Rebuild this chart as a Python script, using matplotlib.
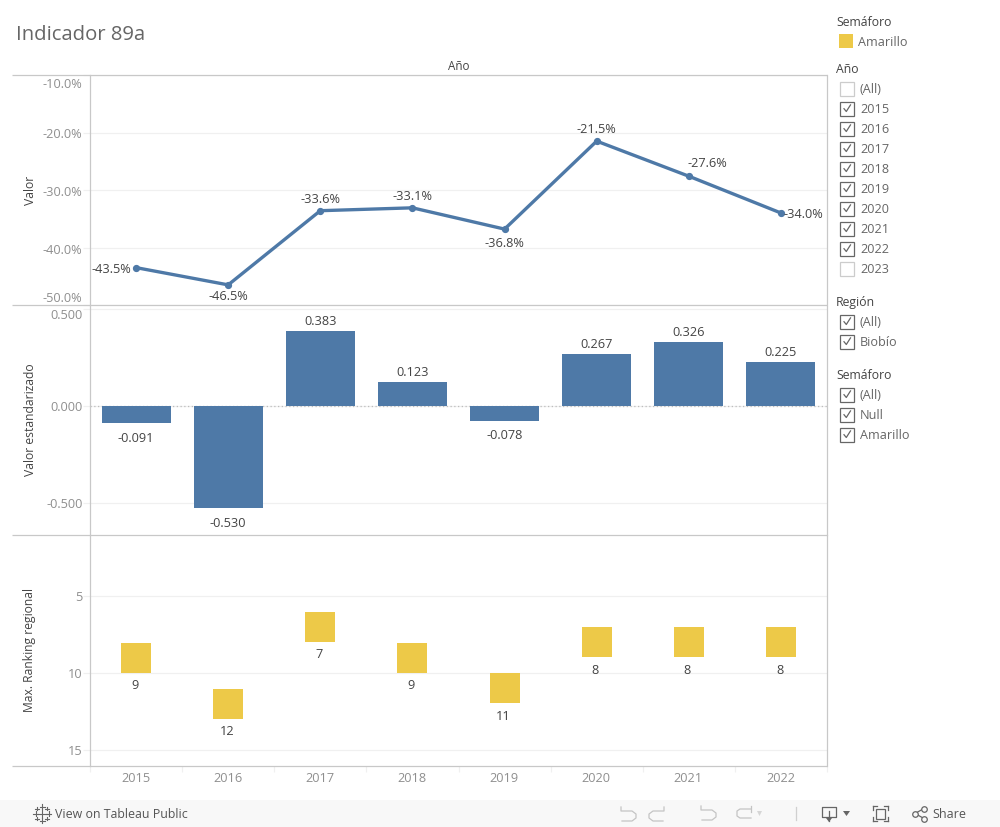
import matplotlib
matplotlib.use('Agg')
import matplotlib.pyplot as plt
from matplotlib.patches import Rectangle
from matplotlib.ticker import FuncFormatter
from matplotlib.transforms import ScaledTranslation

plt.rcParams['font.family'] = ['Open Sans', 'DejaVu Sans']

years = ['2015', '2016', '2017', '2018', '2019', '2020', '2021', '2022']
valor = [-43.5, -46.5, -33.6, -33.1, -36.8, -21.5, -27.6, -34.0]
estandarizado = [-0.091, -0.530, 0.383, 0.123, -0.078, 0.267, 0.326, 0.225]
ranking = [9, 12, 7, 9, 11, 8, 8, 8]
valor_ticks = [-10, -20, -30, -40, -50]
est_ticks = [0.5, 0.0, -0.5]
rank_ticks = [5, 10, 15]

anio_items = ['(All)'] + years + ['2023']
anio_checked = [False] + [True] * 8 + [False]
region_items = ['(All)', 'Biobío']
semaforo_items = ['(All)', 'Null', 'Amarillo']

BLUE = '#4e79a7'
YELLOW = '#edc948'
AXIS = '#c8c8c8'
GRID = '#f0f0f0'
TICK = '#8f8f8f'
TEXT = '#444444'
W, H = 1000, 827
L, R = 90.0, 827.0

fig = plt.figure(figsize=(W / 100, H / 100), dpi=100, facecolor='white')

def panel(top, bottom):
    ax = fig.add_axes([L / W, 1 - bottom / H, (R - L) / W, (bottom - top) / H])
    ax.set_xlim(-0.5, len(years) - 0.5)
    ax.set_xticks([])
    ax.set_facecolor('none')
    for s in ('top', 'bottom'):
        ax.spines[s].set_visible(False)
    ax.spines['left'].set_color(AXIS)
    ax.spines['right'].set_color(AXIS)
    ax.spines['left'].set_linewidth(0.9)
    ax.spines['right'].set_linewidth(0.9)
    ax.grid(axis='y', color=GRID, lw=0.9)
    ax.set_axisbelow(True)
    ax.tick_params(axis='y', length=5, width=0.9, color=GRID, labelcolor=TICK, labelsize=9.2, pad=0.5)
    return ax

def side_label(ax, s):
    ax.set_ylabel(s, fontsize=8.75, color=TEXT, va='center')
    ax.yaxis.set_label_coords((30 - L) / (R - L), 0.5)

def nudge_label(ax, index, pixels_down):
    lab = ax.get_yticklabels()[index]
    lab.set_transform(lab.get_transform() + ScaledTranslation(0, -pixels_down / 100, fig.dpi_scale_trans))

xs = list(range(len(years)))

# Line panel
a1 = panel(75, 305)
a1.set_ylim(-50, -10)
a1.set_yticks(valor_ticks)
a1.yaxis.set_major_formatter(FuncFormatter(lambda v, _: f'{v:.1f}%'))
a1.plot(xs, valor, color=BLUE, lw=2.4, marker='o', ms=4.2, solid_capstyle='round', clip_on=False)
offs = {0: (-25, -1.5), 1: (0, -12), 2: (0, 11.5), 3: (0, 11.5), 4: (0, -14), 5: (0, 11.5), 6: (19, 12.5), 7: (22, -1.5)}
for i, v in enumerate(valor):
    dx, dy = offs[i]
    a1.annotate(f'{v:.1f}%', (i, v), xytext=(dx * .72, dy * .72), textcoords='offset points',
                ha='center', va='center', fontsize=9.2, color=TEXT)
side_label(a1, 'Valor')

# Bar panel
a2 = panel(305.5, 534.5)
a2.set_ylim(-0.5 - 32 / 194, 0.5 + 3 / 194)
a2.set_yticks(est_ticks)
a2.yaxis.set_major_formatter(FuncFormatter(lambda v, _: f'{v:.3f}'))
a2.bar(xs, estandarizado, width=0.75, color=BLUE, zorder=3)
a2.axhline(0, color='#bdbdbd', lw=0.9, ls=(0, (1, 2)), zorder=2)
for i, v in enumerate(estandarizado):
    a2.annotate(f'{v:.3f}', (i, v), xytext=(0, 6.7 if v > 0 else -11), textcoords='offset points',
                ha='center', va='center', fontsize=9.2, color=TEXT)
side_label(a2, 'Valor estandarizado')

# Ranking panel
u = 77 / 5
a3 = panel(535, 765.5)
a3.set_ylim(15 + (765.5 - 750) / u, 5 - (596 - 535) / u)
a3.set_yticks(rank_ticks)
a3.scatter(xs, ranking, marker='s', s=(30 * 0.72) ** 2, color=YELLOW, linewidths=0, zorder=3)
for i, v in enumerate(ranking):
    a3.annotate(str(v), (i, v), xytext=(-1, -20.2), textcoords='offset points',
                ha='center', va='center', fontsize=9.2, color=TEXT)
side_label(a3, 'Max. Ranking regional')
a3.set_xticks([x + 0.5 for x in [-1] + xs])
a3.set_xticklabels([])
a3.tick_params(axis='x', length=4, width=0.9, color=GRID)
for i, y in enumerate(years):
    a3.annotate(y, (i, 0), xycoords=('data', 'axes fraction'), xytext=(-0.4, -9.5), textcoords='offset points',
                ha='center', va='center', fontsize=9.2, color=TICK)

# Edge tick labels sit inside their panels
fig.canvas.draw()
for lab in a1.get_yticklabels():
    if lab.get_text() == '-50.0%':
        lab.set_verticalalignment('bottom')
for ax, txt in ((a1, '-10.0%'), (a2, '0.500')):
    for lab in ax.get_yticklabels():
        if lab.get_text() == txt:
            lab.set_verticalalignment('top')
nudge_label(a1, 0, 3)
nudge_label(a1, 1, 1)
nudge_label(a1, 2, 1)
nudge_label(a1, 3, 1)

# Chrome overlay in pixel coordinates
o = fig.add_axes([0, 0, 1, 1], zorder=5)
o.set_xlim(0, W)
o.set_ylim(H, 0)
o.axis('off')

o.text(16.5, 34.5, 'Indicador 89a', fontsize=14.6, color='#666666', va='center', ha='left')
o.text(458.5, 66, 'Año', fontsize=8.4, color=TEXT, va='center', ha='center')
for y in (75, 305, 535, 765.5):
    o.plot([12, 827], [y, y], color=AXIS, lw=0.9, solid_capstyle='butt')

ITEM = 9.1

def head(y, s):
    o.text(836, y, s, fontsize=8.8, color=TEXT, va='center', ha='left')

def check(y, s, on=True):
    o.add_patch(Rectangle((840, y - 7), 14, 14, fc='white', ec='#666666' if on else '#cccccc', lw=0.9))
    if on:
        o.plot([844, 846.3, 850.5], [y + 0.2, y + 3, y - 3.6], color='#666666', lw=0.9)
    o.text(860, y + 0.7, s, fontsize=ITEM, color='#666666', va='center', ha='left')

head(22, 'Semáforo')
o.add_patch(Rectangle((839, 34), 14, 14, fc=YELLOW, ec='none'))
o.text(858, 42.5, 'Amarillo', fontsize=ITEM, color='#666666', va='center', ha='left')
head(69.5, 'Año')
for i, (s, c) in enumerate(zip(anio_items, anio_checked)):
    check(88.5 + 20 * i, s, c)
head(302.5, 'Región')
for i, s in enumerate(region_items):
    check(321.5 + 20 * i, s)
head(375.5, 'Semáforo')
for i, s in enumerate(semaforo_items):
    check(394.5 + 20 * i, s)

# Toolbar
o.add_patch(Rectangle((0, 800), W, 27, fc='#f8f8f8', ec='none'))
o.text(55, 814, 'View on Tableau Public', fontsize=8.9, color='#555555', va='center', ha='left')
o.text(932, 814, 'Share', fontsize=9, color='#555555', va='center', ha='left')
ic = '#666666'
for cx, cy, r in [(42, 813.5, 4.5), (42, 806.5, 2.5), (42, 820.5, 2.5), (35.5, 813.5, 2.5), (48.5, 813.5, 2.5),
                  (37, 808.5, 1.8), (47, 808.5, 1.8), (37, 818.5, 1.8), (47, 818.5, 1.8)]:
    o.plot([cx - r, cx + r], [cy, cy], color=ic, lw=0.8)
    o.plot([cx, cx], [cy - r, cy + r], color=ic, lw=0.8)
lt = '#c4c4c4'
o.plot([621, 621, 632, 636, 636, 632, 622], [807, 811, 811, 814, 818, 821, 821], color=lt, lw=0.9)
o.plot([664, 664, 653, 649, 649, 653, 663], [807, 811, 811, 814, 818, 821, 821], color=lt, lw=0.9)
o.plot([701, 701, 712, 716, 716, 712, 702], [806, 810, 810, 813, 817, 820, 820], color=lt, lw=0.9)
o.plot([751, 740, 737, 737, 740, 751], [809, 809, 811, 816, 818, 818], color=lt, lw=0.9)
o.plot([751, 751], [806, 812], color=lt, lw=0.9)
o.fill([757, 762, 759.5], [811, 811, 816], color='#d6d6d6', lw=0)
o.plot([795.5, 795.5], [807, 820], color='#d0d0d0', lw=0.9)
o.plot([828, 822, 822, 836, 836, 830], [817, 817, 807, 807, 817, 817], color=ic, lw=0.9)
o.plot([829, 829], [811, 821], color=ic, lw=0.9)
o.fill([826, 832, 829], [818, 818, 822], color=ic, lw=0)
o.fill([843, 850, 846.5], [811, 811, 816], color=ic, lw=0)
o.add_patch(Rectangle((876, 808.5), 9, 10.5, fc='none', ec=ic, lw=0.9))
for xa, xb, ya, yb in [(873, 873, 806, 810), (873, 877, 806, 806), (888, 888, 806, 810), (884, 888, 806, 806),
                       (873, 873, 817, 821), (873, 877, 821, 821), (888, 888, 817, 821), (884, 888, 821, 821)]:
    o.plot([xa, xb], [ya, yb], color=ic, lw=0.9)
o.plot([924, 915, 924], [808.5, 813.5, 818.5], color=ic, lw=0.9)
for cx, cy in [(924, 808.5), (915, 813.5), (924, 818.5)]:
    o.plot([cx], [cy], marker='o', ms=4, mfc='#f8f8f8', mec=ic, mew=0.9)

fig.savefig('out.png', dpi=100, facecolor='white')
